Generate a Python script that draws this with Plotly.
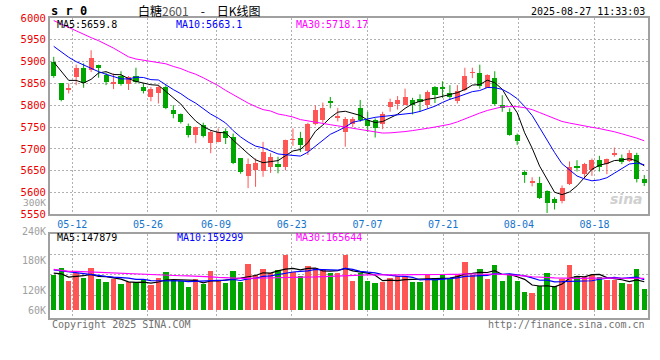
import plotly.graph_objects as go

# ---------------- data ----------------
dates = ["05-07","05-08","05-09","05-12","05-13","05-14","05-15","05-16","05-19","05-20",
         "05-21","05-22","05-23","05-26","05-27","05-28","05-29","05-30",
         "06-03","06-04","06-05","06-06","06-09","06-10","06-11","06-12","06-13","06-16",
         "06-17","06-18","06-19","06-20","06-23","06-24","06-25","06-26","06-27","06-30",
         "07-01","07-02","07-03","07-04","07-07","07-08","07-09","07-10","07-11","07-14",
         "07-15","07-16","07-17","07-18","07-21","07-22","07-23","07-24","07-25","07-28",
         "07-29","07-30","07-31",
         "08-01","08-04","08-05","08-06","08-07","08-08","08-11","08-12","08-13","08-14",
         "08-15","08-18","08-19","08-20","08-21","08-22","08-25","08-26","08-27"]

opens = [5899,5850,5837,5865,5886,5880,5893,5870,5849,5866,
         5849,5867,5842,5819,5827,5842,5790,5781,5752,5732,
         5755,5714,5716,5741,5728,5678,5638,5651,5650,5659,
         5665,5659,5721,5724,5694,5758,5766,5810,5772,5739,
         5758,5793,5766,5766,5756,5796,5803,5800,5812,5814,
         5800,5842,5842,5829,5810,5835,5874,5873,5840,5863,
         5800,5785,5732,5648,5623,5622,5603,5585,5581,5619,
         5659,5642,5651,5674,5665,5688,5678,5673,5686,5632]
highs = [5911,5850,5850,5893,5896,5926,5893,5875,5873,5878,
         5867,5886,5850,5842,5846,5846,5800,5781,5758,5751,
         5760,5743,5747,5747,5735,5678,5678,5678,5716,5690,
         5682,5721,5747,5739,5760,5800,5806,5819,5794,5773,
         5773,5812,5785,5770,5785,5815,5821,5838,5817,5825,
         5834,5844,5855,5846,5846,5886,5886,5893,5871,5878,
         5823,5793,5735,5651,5635,5636,5605,5589,5616,5671,
         5674,5668,5678,5684,5678,5703,5687,5697,5691,5640]
lows = [5863,5809,5827,5846,5840,5876,5863,5846,5837,5845,
        5835,5850,5827,5809,5804,5791,5770,5758,5726,5713,
        5726,5690,5715,5711,5665,5643,5610,5613,5636,5645,
        5644,5651,5707,5693,5686,5754,5760,5793,5763,5705,
        5750,5762,5739,5726,5745,5785,5790,5800,5779,5785,
        5793,5805,5817,5812,5804,5832,5862,5838,5840,5799,
        5785,5730,5709,5622,5614,5585,5553,5561,5575,5617,
        5648,5632,5638,5648,5642,5682,5665,5670,5623,5615]
closes = [5867,5813,5839,5886,5850,5909,5886,5854,5853,5848,
          5864,5854,5832,5837,5842,5793,5781,5761,5732,5751,
          5730,5738,5738,5726,5668,5648,5665,5667,5693,5681,
          5659,5721,5722,5710,5758,5790,5793,5806,5774,5768,
          5768,5767,5752,5747,5779,5807,5812,5819,5800,5807,
          5831,5824,5838,5819,5832,5867,5875,5844,5869,5803,
          5793,5731,5718,5639,5627,5587,5575,5575,5611,5658,
          5657,5665,5674,5659,5677,5691,5671,5690,5632,5621]
volumes = [178900,215000,149600,189200,163400,215000,158200,144500,158200,132400,
           144500,144500,153100,129000,163400,196100,153100,149600,117000,158200,
           135900,199500,149600,139300,199500,144500,237400,180600,209800,189200,
           204700,283800,196100,173700,225300,215000,209800,189200,189200,283800,
           149600,189200,149600,137600,142800,163400,175400,175400,144500,144500,
           178900,163400,184000,163400,184000,246000,180600,209800,158200,230500,
           147900,184000,147900,91200,86000,122100,189200,122100,161700,235600,
           173700,172000,178900,168600,153100,153100,137600,132400,209800,106600]

# moving-average values at the left edge (before enough in-window history)
ma5_head = [5899, 5877, 5857, 5857]
ma10_head = [5935, 5922, 5910, 5900, 5892, 5884, 5877, 5871, 5865]
ma30_head = [5994, 5986, 5979, 5970, 5962, 5955, 5948, 5940, 5931, 5921,
             5911, 5906, 5903, 5900, 5898, 5895, 5889, 5884, 5877, 5871,
             5863, 5854, 5845, 5834, 5824, 5814, 5805, 5797, 5790]
vma5_head = [192600, 189200, 172000, 175400]
vma10_head = [209800, 204700, 197800, 192600, 187500, 182300, 178900, 175400, 172000]
vma30_head = [211600, 206400, 201200, 201200, 199500, 197800, 196100, 194400, 190900, 189200,
              187500, 185800, 184000, 182300, 181000, 180000, 179500, 179000, 178500, 178000,
              177200, 173700, 170300, 168000, 166800, 166000, 165500, 166000, 166300]

price_ticks = [5550, 5600, 5650, 5700, 5750, 5800, 5850, 5900, 5950, 6000]
date_ticks = ["05-12", "05-26", "06-09", "06-23", "07-07", "07-21", "08-04", "08-18"]
vol_labels = ["300K", "240K", "180K", "120K", "60K"]

title_code = "s r 0"
title_text = "白糖<span style='color:#555'>2601</span>\u2002\u2002-\u2002\u2002日K线图"
timestamp = "2025-08-27 11:33:03"
price_legend = ["MA5:5659.8", "MA10:5663.1", "MA30:5718.17"]
vol_legend = ["MA5:147879", "MA10:159299", "MA30:165644"]


def moving_avg(vals, n, head):
    out = list(head)
    for i in range(len(head), len(vals)):
        out.append(sum(vals[i - n + 1:i + 1]) / n)
    return out

# ---------------- styling ----------------
RED = "#ff5555"
GREEN = "#00a600"
MONO = "DejaVu Sans Mono"
GRID = "#b0b0b0"
FRAME = "#a0a0a0"

n = len(dates)
xs = list(range(n))
up = [c >= o for o, c in zip(opens, closes)]

fig = go.Figure()

# wicks
for flag, col in ((True, RED), (False, GREEN)):
    wx, wy = [], []
    for i in xs:
        if up[i] == flag:
            wx += [i, i, None]
            wy += [lows[i], highs[i], None]
    fig.add_trace(go.Scatter(x=wx, y=wy, mode="lines", line=dict(color=col, width=1),
                             hoverinfo="skip", xaxis="x", yaxis="y"))

# bodies
for flag, col in ((True, RED), (False, GREEN)):
    bx = [i for i in xs if up[i] == flag]
    fig.add_trace(go.Bar(
        x=bx,
        y=[max(abs(closes[i] - opens[i]), 1.2) for i in bx],
        base=[min(opens[i], closes[i]) for i in bx],
        width=0.68, marker=dict(color=col, line=dict(width=0)),
        xaxis="x", yaxis="y"))

# price moving averages
for vals, col in ((moving_avg(closes, 5, ma5_head), "#000000"),
                  (moving_avg(closes, 10, ma10_head), "#0000ff"),
                  (moving_avg(closes, 30, ma30_head), "#ff00ff")):
    fig.add_trace(go.Scatter(x=xs, y=vals, mode="lines", line=dict(color=col, width=1),
                             xaxis="x", yaxis="y"))

# volume bars
for flag, col in ((True, RED), (False, GREEN)):
    bx = [i for i in xs if up[i] == flag]
    fig.add_trace(go.Bar(x=bx, y=[volumes[i] for i in bx], width=0.72,
                         marker=dict(color=col, line=dict(width=0)),
                         xaxis="x2", yaxis="y2"))

for vals, col in ((moving_avg(volumes, 5, vma5_head), "#000000"),
                  (moving_avg(volumes, 10, vma10_head), "#0000ff"),
                  (moving_avg(volumes, 30, vma30_head), "#ff00ff")):
    fig.add_trace(go.Scatter(x=xs, y=vals, mode="lines", line=dict(color=col, width=1.2),
                             xaxis="x2", yaxis="y2"))

tickvals = [dates.index(d) * n / (n - 1) - 0.5 - 0.06 for d in date_ticks]

axis_common = dict(showline=True, mirror=True, linecolor=FRAME, linewidth=2,
                   zeroline=False, showgrid=True, gridcolor=GRID, griddash="2px,2px",
                   gridwidth=1, ticks="", fixedrange=True)

fig.update_layout(
    width=660, height=360,
    margin=dict(l=50, r=10, t=18, b=42),
    paper_bgcolor="white", plot_bgcolor="white",
    showlegend=False, barmode="overlay", bargap=0,
    xaxis=dict(domain=[0, 1], range=[-0.5, n - 0.5], anchor="y",
               tickmode="array", tickvals=tickvals, ticktext=date_ticks,
               tickfont=dict(family=MONO, size=10, color="#1574cc"), **axis_common),
    xaxis2=dict(domain=[0, 1], range=[-0.5, n - 0.5], anchor="y2", matches="x",
                tickmode="array", tickvals=tickvals, showticklabels=False, **axis_common),
    yaxis=dict(domain=[0.3457, 1], range=[price_ticks[0], price_ticks[-1]], anchor="x",
               tickmode="array", tickvals=price_ticks,
               tickfont=dict(family=MONO, size=10.5, color="#ee0000"), **axis_common),
    yaxis2=dict(domain=[0, 0.279], range=[-39000, 393000], anchor="x2",
                tickmode="array", tickvals=[77400, 184200, 287400], showticklabels=False,
                **axis_common),
)

ann = []
ann.append(dict(text="<b>" + title_code + "</b>", x=-0.002, y=1 + (18 - 11.5) / 300, xref="paper", yref="paper",
                xanchor="left", yanchor="middle", showarrow=False,
                font=dict(family=MONO, size=12, color="#000")))
ann.append(dict(text=title_text, x=(200 - 50) / 600, y=1 + (18 - 10.5) / 300, xref="paper", yref="paper",
                xanchor="center", yanchor="middle", showarrow=False,
                font=dict(family="Noto Sans CJK SC", size=12, color="#000")))
ann.append(dict(text=timestamp, x=0.998, y=1 + (18 - 11.5) / 300, xref="paper", yref="paper",
                xanchor="right", yanchor="middle", showarrow=False,
                font=dict(family=MONO, size=10, color="#000")))
for txt, px, col in zip(price_legend, [55, 174, 295], ["#000", "#0000ff", "#ff00ff"]):
    ann.append(dict(text=txt, x=(px - 50) / 600, y=1 - (24.5 - 18) / 300, xref="paper", yref="paper",
                    xanchor="left", yanchor="middle", showarrow=False,
                    font=dict(family=MONO, size=10, color=col)))
for txt, px, col in zip(vol_legend, [55, 175, 295], ["#000", "#0000ff", "#ff00ff"]):
    ann.append(dict(text=txt, x=(px - 50) / 600, y=1 - (238 - 18) / 300, xref="paper", yref="paper",
                    xanchor="left", yanchor="middle", showarrow=False,
                    font=dict(family=MONO, size=10, color=col)))
for txt, py, fs in zip(vol_labels, [202.5, 231, 260, 290, 310.7], [9.5, 10, 10, 10, 10]):
    ann.append(dict(text=txt, x=-0.004, y=1 - (py - 18) / 300, xref="paper", yref="paper",
                    xanchor="right", yanchor="middle", showarrow=False,
                    font=dict(family=MONO, size=fs, color="#a0a0a0")))
ann.append(dict(text="Copyright 2025 SINA.COM", x=0, y=1 - (324 - 18) / 300, xref="paper", yref="paper",
                xanchor="left", yanchor="middle", showarrow=False,
                font=dict(family=MONO, size=10, color="#707070")))
ann.append(dict(text="http://finance.sina.com.cn", x=0.998, y=1 - (324 - 18) / 300, xref="paper", yref="paper",
                xanchor="right", yanchor="middle", showarrow=False,
                font=dict(family=MONO, size=10, color="#707070")))
ann.append(dict(text="<b><i>sina</i></b>", x=0.995, y=1 - (199 - 18) / 300, xref="paper", yref="paper",
                xanchor="right", yanchor="middle", showarrow=False,
                font=dict(family="DejaVu Sans", size=14, color="#d0d0d0")))
fig.update_layout(annotations=ann)

fig.write_html("out.html", config={"displayModeBar": False},
               post_script="document.body.style.margin='0px';")
